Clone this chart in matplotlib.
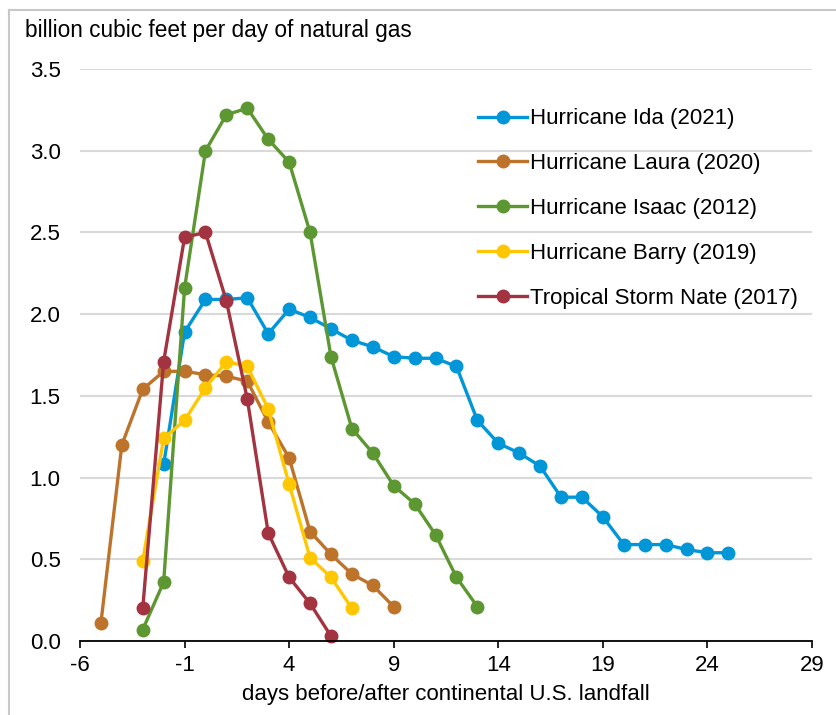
import matplotlib.pyplot as plt
from matplotlib.lines import Line2D

plt.rcParams['font.family'] = ['Liberation Sans', 'DejaVu Sans']
plt.rcParams['axes.unicode_minus'] = False

# data: days relative to landfall, flow in Bcf/d
ida_days = list(range(-2, 26))
ida_vals = [1.08, 1.89, 2.09, 2.09, 2.10, 1.88, 2.03, 1.98, 1.91, 1.84, 1.80,
            1.74, 1.73, 1.73, 1.68, 1.35, 1.21, 1.15, 1.07, 0.88, 0.88, 0.76,
            0.59, 0.59, 0.59, 0.56, 0.54, 0.54]

laura_days = list(range(-5, 10))
laura_vals = [0.11, 1.20, 1.54, 1.65, 1.65, 1.63, 1.62, 1.59, 1.34, 1.12,
              0.67, 0.53, 0.41, 0.34, 0.21]

isaac_days = list(range(-3, 14))
isaac_vals = [0.07, 0.36, 2.16, 3.00, 3.22, 3.26, 3.07, 2.93, 2.50, 1.74,
              1.30, 1.15, 0.95, 0.84, 0.65, 0.39, 0.21]

barry_days = list(range(-3, 8))
barry_vals = [0.49, 1.24, 1.35, 1.55, 1.71, 1.68, 1.42, 0.96, 0.51, 0.39, 0.20]

nate_days = list(range(-3, 7))
nate_vals = [0.20, 1.71, 2.47, 2.50, 2.08, 1.48, 0.66, 0.39, 0.23, 0.03]

names = ['Hurricane Ida (2021)', 'Hurricane Laura (2020)', 'Hurricane Isaac (2012)',
         'Hurricane Barry (2019)', 'Tropical Storm Nate (2017)']
colors = ['#0096d7', '#bd732a', '#5d9732', '#ffc702', '#a33340']
series = [(ida_days, ida_vals), (laura_days, laura_vals), (isaac_days, isaac_vals),
          (barry_days, barry_vals), (nate_days, nate_vals)]

x_ticks = list(range(-6, 30, 5))
y_ticks = [0.0, 0.5, 1.0, 1.5, 2.0, 2.5, 3.0, 3.5]

fs = 16

fig = plt.figure(figsize=(8.37, 7.15), dpi=100)
ax = fig.add_axes([80 / 837, 1 - 641 / 715, 732 / 837, 572 / 715])

for (d, v), c, n in zip(series, colors, names):
    ax.plot(d, v, color=c, lw=2.4, marker='o', ms=9, label=n, clip_on=False)

ax.set_xlim(-6, 29)
ax.set_ylim(0, 3.5)
ax.set_xticks(x_ticks)
ax.set_yticks(y_ticks)
ax.set_yticklabels([f'{t:.1f}' for t in y_ticks])
ax.tick_params(axis='x', length=5, width=1.2, direction='out', labelsize=fs, pad=5)
ax.tick_params(axis='y', length=0, labelsize=fs, pad=14)
ax.grid(axis='y', color='#d9d9d9', lw=1.5)
ax.set_axisbelow(True)
for s in ['top', 'right', 'left']:
    ax.spines[s].set_visible(False)
ax.spines['bottom'].set_linewidth(1.3)
ax.spines['bottom'].set_zorder(5)

ax.set_xlabel('days before/after continental U.S. landfall', fontsize=fs, labelpad=6)
fig.text(25 / 837, 1 - 31 / 715, 'billion cubic feet per day of natural gas',
         fontsize=16.3, va='center', ha='left')

leg = ax.legend(loc='upper left', bbox_to_anchor=(0.517, 0.966), frameon=False,
                fontsize=fs, handlelength=2.2, handletextpad=0.12,
                labelspacing=1.07)

# light frame (top and left edges only)
fig.add_artist(Line2D([9 / 837, 1], [1 - 10 / 715, 1 - 10 / 715],
                      color='#c8c8c8', lw=1.5, transform=fig.transFigure))
fig.add_artist(Line2D([9 / 837, 9 / 837], [0, 1 - 10 / 715],
                      color='#c8c8c8', lw=1.5, transform=fig.transFigure))

fig.savefig('out.png', dpi=100, facecolor='white')
